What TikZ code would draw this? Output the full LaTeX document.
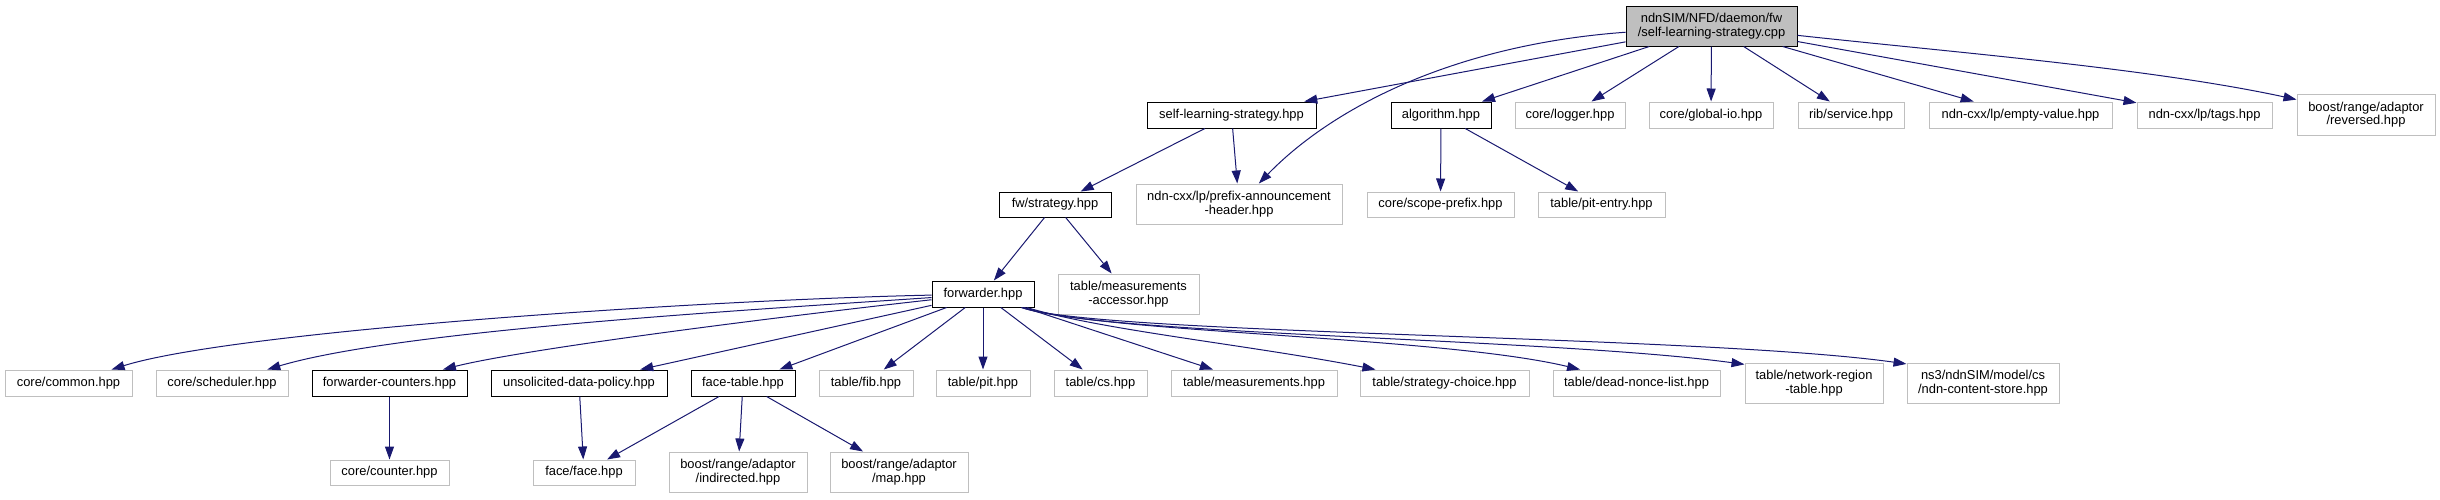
\documentclass[tikz,border=0pt]{standalone}
\usepackage{fontspec}
\setmainfont{Liberation Sans}
\usetikzlibrary{arrows.meta}
\definecolor{edgec}{HTML}{191970}
\definecolor{greyb}{HTML}{BFBFBF}
\begin{document}
\begin{tikzpicture}[x=1pt,y=-1pt,
  box/.style={draw, line width=1pt, inner sep=0pt, font=\fontsize{12.9}{13.6}\selectfont},
  doc/.style={box, draw=black},
  ext/.style={box, draw=greyb},
  one/.style={text height=9.4pt, text depth=2.8pt, minimum height=26pt},
  two/.style={align=center, minimum height=40pt},
  dep/.style={draw=edgec, line width=1pt, -{Triangle[length=13pt,width=9pt]}}]
\useasboundingbox (0,0) rectangle (2440,499);

% row 0
\node[doc, fill=greyb, two, minimum width=171pt] (main) at (1711.5,26) {ndnSIM/NFD/daemon/fw\\/self-learning-strategy.cpp};

% row 1
\node[doc, one, minimum width=169pt] (slsh) at (1231.5,115) {self-learning-strategy.hpp};
\node[doc, one, minimum width=100pt] (algo) at (1441,115) {algorithm.hpp};
\node[ext, one, minimum width=110pt] (logger) at (1570,115) {core/logger.hpp};
\node[ext, one, minimum width=124pt] (globalio) at (1711,115) {core/global-io.hpp};
\node[ext, one, minimum width=106pt] (rib) at (1851,115) {rib/service.hpp};
\node[ext, one, minimum width=183pt] (empty) at (2020.5,115) {ndn-cxx/lp/empty-value.hpp};
\node[ext, one, minimum width=135pt] (tags) at (2204.5,115) {ndn-cxx/lp/tags.hpp};
\node[ext, two, minimum width=138pt, minimum height=41pt] (reversed) at (2366,114.5) {boost/range/adaptor\\/reversed.hpp};

% row 2
\node[doc, one, minimum width=112pt, minimum height=25pt] (strategy) at (1055,204.5) {fw/strategy.hpp};
\node[ext, two, minimum width=206pt] (prefix) at (1239,204) {ndn-cxx/lp/prefix-announcement\\-header.hpp};
\node[ext, one, minimum width=147pt, minimum height=25pt] (scope) at (1440.5,204.5) {core/scope-prefix.hpp};
\node[ext, one, minimum width=127pt, minimum height=25pt] (pitentry) at (1601.5,204.5) {table/pit-entry.hpp};

% row 3
\node[doc, one, minimum width=102pt] (forwarder) at (983,294) {forwarder.hpp};
\node[ext, two, minimum width=141pt] (measacc) at (1128.5,294) {table/measurements\\-accessor.hpp};

% row 4
\node[ext, one, minimum width=127pt] (common) at (68.5,383) {core/common.hpp};
\node[ext, one, minimum width=132pt] (scheduler) at (222,383) {core/scheduler.hpp};
\node[doc, one, minimum width=155pt] (fwdcnt) at (389.5,383) {forwarder-counters.hpp};
\node[doc, one, minimum width=176pt] (unsol) at (579,383) {unsolicited-data-policy.hpp};
\node[doc, one, minimum width=104pt] (facetable) at (743,383) {face-table.hpp};
\node[ext, one, minimum width=94pt] (fib) at (866,383) {table/fib.hpp};
\node[ext, one, minimum width=94pt] (pit) at (983,383) {table/pit.hpp};
\node[ext, one, minimum width=93pt] (cs) at (1100.5,383) {table/cs.hpp};
\node[ext, one, minimum width=166pt] (meas) at (1254,383) {table/measurements.hpp};
\node[ext, one, minimum width=169pt] (sc) at (1444.5,383) {table/strategy-choice.hpp};
\node[ext, one, minimum width=167pt] (dnl) at (1636.5,383) {table/dead-nonce-list.hpp};
\node[ext, two, minimum width=138pt] (nrt) at (1814,383) {table/network-region\\-table.hpp};
\node[ext, two, minimum width=152pt] (ns3) at (1983,383) {ns3/ndnSIM/model/cs\\/ndn-content-store.hpp};

% row 5
\node[ext, one, minimum width=119pt, minimum height=25pt] (counter) at (389.5,472.5) {core/counter.hpp};
\node[ext, one, minimum width=102pt, minimum height=25pt] (face) at (584,472.5) {face/face.hpp};
\node[ext, two, minimum width=138pt] (indirected) at (738,472) {boost/range/adaptor\\/indirected.hpp};
\node[ext, two, minimum width=138pt] (map) at (899,472) {boost/range/adaptor\\/map.hpp};

% edges from main
\draw[dep] (main) -- (slsh);
\draw[dep] (main) .. controls (1450,45) and (1330,110) .. (prefix);
\draw[dep] (main) -- (algo);
\draw[dep] (main) -- (logger);
\draw[dep] (main) -- (globalio);
\draw[dep] (main) -- (rib);
\draw[dep] (main) -- (empty);
\draw[dep] (main) -- (tags);
\draw[dep] (main) .. controls (1950,52) and (2150,68) .. (reversed);

% self-learning-strategy.hpp
\draw[dep] (slsh) -- (strategy);
\draw[dep] (slsh) -- (prefix);

% algorithm.hpp
\draw[dep] (algo) -- (scope);
\draw[dep] (algo) -- (pitentry);

% fw/strategy.hpp
\draw[dep] (strategy) -- (forwarder);
\draw[dep] (strategy) -- (measacc);

% forwarder.hpp
\draw[dep] (forwarder) .. controls (700,300) and (234.5,331) .. (common);
\draw[dep] (forwarder) .. controls (750,310) and (400,330) .. (scheduler);
\draw[dep] (forwarder) .. controls (750,320) and (520,350) .. (fwdcnt);
\draw[dep] (forwarder) -- (unsol);
\draw[dep] (forwarder) -- (facetable);
\draw[dep] (forwarder) -- (fib);
\draw[dep] (forwarder) -- (pit);
\draw[dep] (forwarder) -- (cs);
\draw[dep] (forwarder) -- (meas);
\draw[dep] (forwarder) .. controls (1100,330) and (1250,345) .. (sc);
\draw[dep] (forwarder) .. controls (1100,333) and (1440,336) .. (dnl);
\draw[dep] (forwarder) .. controls (1100,335) and (1550,338) .. (nrt.165);
\draw[dep] (forwarder) .. controls (1100,335) and (1700,335) .. (ns3.166);

% lower level
\draw[dep] (fwdcnt) -- (counter);
\draw[dep] (unsol) -- (face);
\draw[dep] (facetable) -- (face);
\draw[dep] (facetable) -- (indirected);
\draw[dep] (facetable) -- (map);
\end{tikzpicture}
\end{document}
